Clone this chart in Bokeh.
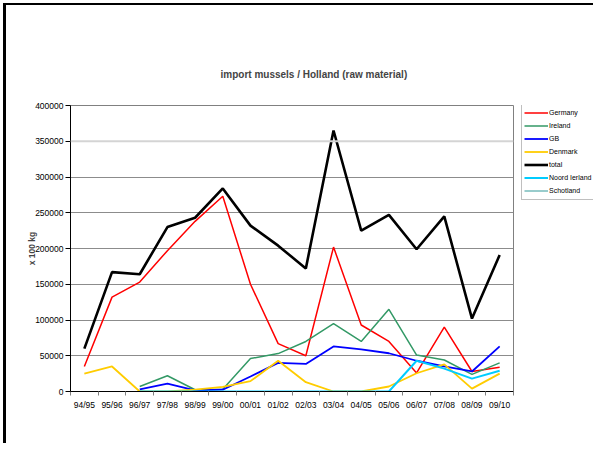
import math
from bokeh.plotting import figure
from bokeh.layouts import row
from bokeh.models import (ColumnDataSource, FixedTicker, Legend, LegendItem, Span)
from bokeh.embed import file_html
from bokeh.resources import INLINE

nan = float("nan")

categories = ["94/95", "95/96", "96/97", "97/98", "98/99", "99/00", "00/01", "01/02",
              "02/03", "03/04", "04/05", "05/06", "06/07", "07/08", "08/09", "09/10"]
germany = [35000, 132000, 153000, 197000, 238000, 273000, 150000, 67000,
           50000, 202000, 93000, 70000, 26000, 90000, 28000, 34000]
ireland = [nan, nan, 7000, 22000, 2500, 3000, 46000, 53000,
           70000, 95000, 70000, 115000, 51000, 44000, 24000, 40000]
gb = [nan, nan, 3000, 11000, 1500, 2500, 21000, 40000,
      38500, 63000, 59000, 53500, 43000, 35000, 28000, 63000]
denmark = [25000, 35000, 0, 0, 2500, 6500, 14500, 43000,
           13000, 0, 0, 7000, 25500, 38000, 4000, 25000]
total = [60000, 167000, 164000, 230000, 243000, 284000, 232000, 204000,
         172000, 365000, 225000, 247000, 199000, 245000, 102000, 191000]
noord_ierland = [nan, nan, 0, 0, 0, 0, 0, 0, 0, 0, 0, 0, 43000, 32000, 18000, 29000]
schotland = [nan, nan, 0, 0, 0, 0, 0, 0, 0, 0, 0, 0, 0, 0, 0, 0]
y_ticks = [0, 50000, 100000, 150000, 200000, 250000, 300000, 350000, 400000]

series_names = ["Germany", "Ireland", "GB", "Denmark", "total", "Noord Ierland", "Schotland"]
series_colors = ["#FF0000", "#339966", "#0000FF", "#FFCC00", "#000000", "#00CCFF", "#339999"]
series_widths = [1.5, 1.5, 1.8, 1.8, 2.6, 2, 1]

xs = [i + 0.5 for i in range(len(categories))]
src = ColumnDataSource(dict(x=xs, germany=germany, ireland=ireland, gb=gb, denmark=denmark,
                            total=total, noord=noord_ierland, schotland=schotland))
cols = ["germany", "ireland", "gb", "denmark", "total", "noord", "schotland"]

FONT = "Liberation Sans"

p = figure(width=509, height=438, output_backend="svg", toolbar_location=None,
           x_range=(0, len(categories)), y_range=(0, 400000),
           min_border_left=64, min_border_right=2, min_border_top=100, min_border_bottom=52)
p.background_fill_color = "white"
p.border_fill_color = "white"
p.outline_line_color = "#808080"
p.outline_line_width = 1

p.title.text = "import mussels / Holland (raw material)"
p.title.text_font = FONT
p.title.text_font_style = "bold"
p.title.text_font_size = "10px"
p.title.align = "left"
p.title.offset = 150
p.title.standoff = 52

# grid
p.xgrid.grid_line_color = None
p.ygrid.grid_line_color = "#8c8c8c"
p.ygrid.grid_line_width = 1
p.ygrid.ticker = FixedTicker(ticks=y_ticks)
p.add_layout(Span(location=350000, dimension="width", line_color="#d4d4d4", line_width=2))

# y axis
p.yaxis.ticker = FixedTicker(ticks=y_ticks)
p.yaxis.formatter.use_scientific = False
p.yaxis.axis_label = "x 100 kg"
p.yaxis.axis_label_text_font = FONT
p.yaxis.axis_label_text_font_style = "bold"
p.yaxis.axis_label_text_font_size = "8.5px"
p.yaxis.axis_label_standoff = -5
p.yaxis.major_label_text_font = FONT
p.yaxis.major_label_text_font_size = "8.5px"
p.yaxis.major_label_text_color = "black"
p.yaxis.major_tick_out = 5
p.yaxis.major_tick_in = 0
p.yaxis.minor_tick_line_color = None
p.yaxis.major_label_standoff = 2
p.yaxis.axis_line_color = "black"

# x axis
p.xaxis.ticker = FixedTicker(ticks=xs, minor_ticks=list(range(len(categories) + 1)))
p.xaxis.major_label_overrides = {x: c for x, c in zip(xs, categories)}
p.xaxis.major_tick_line_color = None
p.xaxis.major_tick_out = 0
p.xaxis.minor_tick_out = 4
p.xaxis.minor_tick_in = 0
p.xaxis.minor_tick_line_color = "#808080"
p.xaxis.major_label_standoff = 4
p.xaxis.major_label_text_font = FONT
p.xaxis.major_label_text_font_size = "8.5px"
p.xaxis.major_label_text_color = "black"
p.xaxis.axis_line_color = "black"

draw_order = [0, 1, 2, 3, 4, 6, 5]
for i in draw_order:
    p.line("x", cols[i], source=src, line_color=series_colors[i], line_width=series_widths[i])

# legend panel: a small canvas to the right of the plot; its ranges keep the
# proxy series lines out of view so only the legend shows
lg = figure(width=78, height=438, output_backend="svg", toolbar_location=None,
            x_range=(-20, -19), y_range=(-2, -1), x_axis_location=None, y_axis_location=None,
            min_border=0)
lg.outline_line_color = None
lg.grid.grid_line_color = None
lg.background_fill_color = "white"
lg.border_fill_color = "white"
items = []
for i, name in enumerate(series_names):
    r = lg.line("x", cols[i], source=src, line_color=series_colors[i], line_width=series_widths[i])
    items.append(LegendItem(label=name, renderers=[r]))
legend = Legend(items=items, location=(6, 191))
legend.label_text_font = FONT
legend.label_text_font_size = "7px"
legend.label_text_color = "black"
legend.label_height = 13
legend.label_width = 40
legend.glyph_height = 13
legend.glyph_width = 24
legend.label_standoff = 1
legend.spacing = 0
legend.padding = 2
legend.margin = 0
legend.border_line_color = "#808080"
legend.border_line_width = 1
legend.background_fill_alpha = 1
lg.add_layout(legend)

layout = row(p, lg)
layout.styles = {"border-left": "3px solid black", "border-top": "2px solid black",
                 "margin-left": "3px", "margin-top": "3px"}
open("out.html", "w").write(file_html(layout, INLINE))
